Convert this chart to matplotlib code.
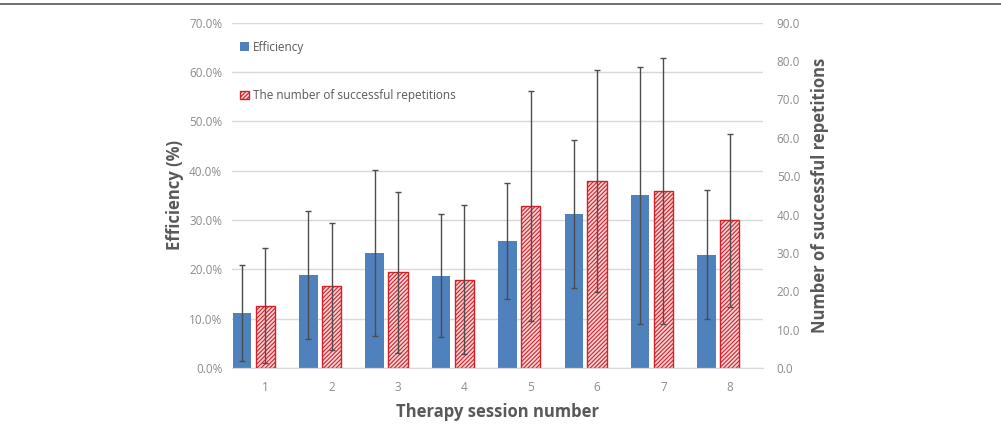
import numpy as np
import matplotlib
matplotlib.use("Agg")
import matplotlib.pyplot as plt
from matplotlib.ticker import FuncFormatter, MultipleLocator
from matplotlib.lines import Line2D

# data
sessions = ["1", "2", "3", "4", "5", "6", "7", "8"]
efficiency = [11.2, 18.9, 23.3, 18.7, 25.7, 31.3, 35.0, 23.0]        # %
efficiency_sd = [9.7, 13.0, 16.9, 12.5, 11.8, 15.0, 26.0, 13.0]
repetitions = [16.3, 21.3, 25.0, 23.0, 42.3, 48.7, 46.1, 38.5]
repetitions_sd = [15.0, 16.6, 21.0, 19.4, 30.0, 29.0, 34.6, 22.6]

plt.rcParams["font.family"] = ["Open Sans", "DejaVu Sans"]
plt.rcParams["hatch.linewidth"] = 0.8

blue = "#4f81bd"
red = "#d4202a"
pink = "#f7d4d4"
grid_c = "#d9d9d9"
tick_c = "#8c8c8c"
label_c = "#595959"
err_c = "#4d4d4d"

fig = plt.figure(figsize=(10.01, 4.32), dpi=100)
ax = fig.add_axes([0.2318, 0.148, 0.5304, 0.7995])
ax2 = ax.twinx()

x = np.arange(len(sessions))

ax.bar(x - 0.35, efficiency, width=0.28, color=blue, zorder=2,
       label="Efficiency")
ax.errorbar(x - 0.35, efficiency, yerr=efficiency_sd, fmt="none",
            ecolor=err_c, elinewidth=1, capsize=2.5, capthick=1, zorder=3)

ax2.bar(x, repetitions, width=0.29, facecolor=pink, edgecolor=red,
        hatch="////////", linewidth=1.0, zorder=2,
        label="The number of successful repetitions")
ax2.errorbar(x, repetitions, yerr=repetitions_sd, fmt="none",
             ecolor=err_c, elinewidth=1, capsize=2.5, capthick=1, zorder=3)

ax.set_xlim(-0.5, len(sessions) - 0.5)
ax.set_ylim(0, 70)
ax2.set_ylim(0, 90)
ax.yaxis.set_major_locator(MultipleLocator(10))
ax2.yaxis.set_major_locator(MultipleLocator(10))
ax.yaxis.set_major_formatter(FuncFormatter(lambda v, p: f"{v:.1f}%"))
ax2.yaxis.set_major_formatter(FuncFormatter(lambda v, p: f"{v:.1f}"))
ax.set_xticks(x)
ax.set_xticklabels(sessions)

ax.set_axisbelow(True)
ax.grid(axis="y", color=grid_c, linewidth=1)
for a in (ax, ax2):
    for s in ("top", "left", "right"):
        a.spines[s].set_visible(False)
    a.spines["bottom"].set_color(grid_c)
    a.tick_params(length=0, colors=tick_c, labelsize=8.5)
ax.tick_params(axis="y", pad=7)
ax.tick_params(axis="x", pad=9)
ax2.tick_params(axis="y", pad=10)

ax.set_xlabel("Therapy session number", fontsize=12, fontweight="bold",
              color=label_c, labelpad=7)
ax.set_ylabel("Efficiency (%)", fontsize=12, fontweight="bold",
              color=label_c, labelpad=4)
ax2.set_ylabel("Number of successful repetitions", fontsize=12,
               fontweight="bold", color=label_c, labelpad=8)

h1, l1 = ax.get_legend_handles_labels()
h2, l2 = ax2.get_legend_handles_labels()
leg = ax2.legend(h1 + h2, l1 + l2, loc="upper left",
                 bbox_to_anchor=(0.0, 0.972), frameon=False, fontsize=8.5,
                 handlelength=0.7, handleheight=0.7, handletextpad=0.4,
                 labelspacing=3.0, borderaxespad=0.3)
for t in leg.get_texts():
    t.set_color(label_c)

# frame line at the top of the figure
fig.add_artist(Line2D([0, 1], [0.99, 0.99], color="#555555", linewidth=1.2))

fig.savefig("out.png", dpi=100)
